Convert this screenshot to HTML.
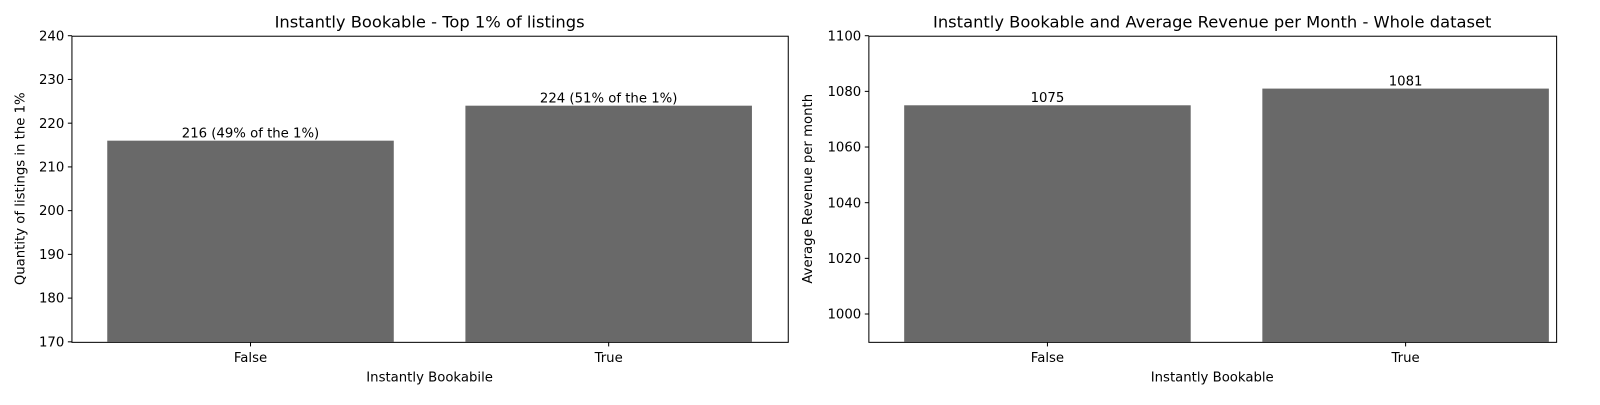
<!DOCTYPE html>
<html><head><meta charset="utf-8"><style>
body{margin:0;background:#fff;}
svg text{font-family:"DejaVu Sans","Liberation Sans",sans-serif;fill:#000;}
</style></head><body>
<svg width="1600" height="400" xmlns="http://www.w3.org/2000/svg"><g id="c" transform="scale(1.0204)"></g></svg>
<script>
const categories = ["False","True"];
const leftValues = [216, 224];
const leftLabels = ["216 (49% of the 1%)","224 (51% of the 1%)"];
const leftTicks = [170,180,190,200,210,220,230,240];
const rightValues = [1075, 1081];
const rightLabels = ["1075","1081"];
const rightTicks = [1000,1020,1040,1060,1080,1100];

const svg = document.getElementById('c');
const NS = "http://www.w3.org/2000/svg";
function el(tag, attrs, parent){const e=document.createElementNS(NS,tag);for(const k in attrs)e.setAttribute(k,attrs[k]);(parent||svg).appendChild(e);return e;}

function panel(cfg){
  const g = el('g',{});
  
  
  const y = v => cfg.top + (cfg.ymax - v)/(cfg.ymax-cfg.ymin)*(cfg.bottom-cfg.top);
  const x = i => cfg.x0 + i*cfg.unit;
  cfg.values.forEach((v,i)=>{
    const b = el('rect',{x:x(i)-0.4*cfg.unit,y:y(v),width:0.8*cfg.unit,height:cfg.bottom-y(v),fill:'#696969'},g);
    
    
    const t = el('text',{x:x(i),y:y(v)-3,'text-anchor':'middle','font-size':'13'},g);
    t.textContent = cfg.labels[i];
    
    
  });
  const frame = el('rect',{x:cfg.left+0.5,y:cfg.top+0.5,width:cfg.right-cfg.left,height:cfg.bottom-cfg.top,fill:'none',stroke:'#000','stroke-width':1},g);
  
  
  cfg.ticks.forEach(v=>{
    const yy=y(v);
    el('line',{x1:cfg.left-3.5,x2:cfg.left+0.5,y1:yy,y2:yy,stroke:'#000'},g);
    const t=el('text',{x:cfg.left-7,y:yy+4.5,'text-anchor':'end','font-size':'13'},g);
    t.textContent=v;
    
    
  });
  categories.forEach((c,i)=>{
    const xx=x(i);
    el('line',{x1:xx,x2:xx,y1:cfg.bottom+0.5,y2:cfg.bottom+4.5,stroke:'#000'},g);
    const t=el('text',{x:xx,y:cfg.bottom+20,'text-anchor':'middle','font-size':'13'},g);
    t.textContent=c;
    
    
  });
  const tt=el('text',{x:(cfg.left+cfg.right)/2,y:cfg.top-8,'text-anchor':'middle','font-size':'16'},g);
  tt.textContent=cfg.title;
  
  
  const xt=el('text',{x:(cfg.left+cfg.right)/2,y:cfg.bottom+39,'text-anchor':'middle','font-size':'13'},g);
  xt.textContent=cfg.xlabel;
  
  
  const cy=(cfg.top+cfg.bottom)/2;
  const yt=el('text',{x:cfg.ylx,y:cy,'text-anchor':'middle','font-size':'13',transform:`rotate(-90 ${cfg.ylx} ${cy})`},g);
  yt.textContent=cfg.ylabel;
  
  
}
panel({name:'left-panel',left:70,right:772,top:35,bottom:335,ymin:170,ymax:240,x0:245.5,unit:351,
  values:leftValues,labels:leftLabels,ticks:leftTicks,title:'Instantly Bookable - Top 1% of listings',
  xlabel:'Instantly Bookabile',ylabel:'Quantity of listings in the 1%',ylx:24});
panel({name:'right-panel',left:851,right:1525,top:35,bottom:335,ymin:990,ymax:1100,x0:1026.5,unit:351,
  values:rightValues,labels:rightLabels,ticks:rightTicks,title:'Instantly Bookable and Average Revenue per Month - Whole dataset',
  xlabel:'Instantly Bookable',ylabel:'Average Revenue per month',ylx:796});
</script>
</body></html>
